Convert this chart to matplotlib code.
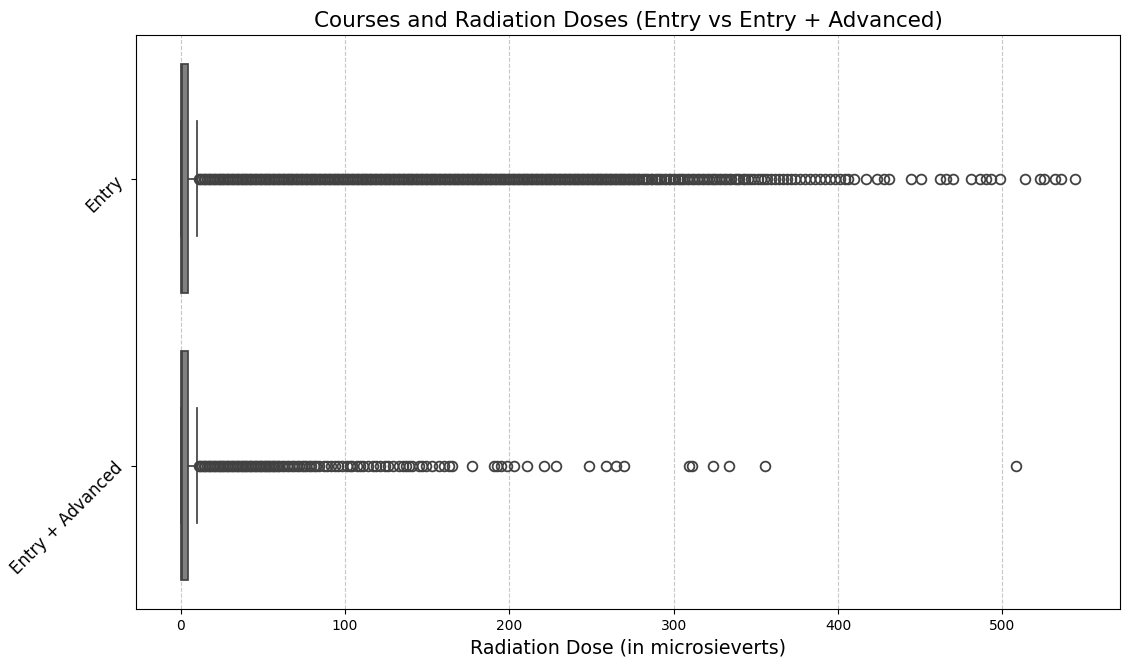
import matplotlib
matplotlib.use("Agg")
import matplotlib.pyplot as plt

# course groups (top to bottom)
categories = ["Entry", "Entry + Advanced"]

# box statistics (microsieverts)
q1 = [0.3, 0.3]
median = [0.6, 0.6]
q3 = [4.6, 4.6]
whis_lo = [0.0, 0.0]
whis_hi = [10.2, 10.2]

# outliers for "Entry" - up to ~280 they form a solid run of overlapping points
entry_fliers = [
    11, 12, 13, 14, 15, 16, 17, 18, 19, 20, 21, 22, 23, 24, 25, 26, 27, 28, 29, 30,
    31, 32, 33, 34, 35, 36, 37, 38, 39, 40, 41, 42, 43, 44, 45, 46, 47, 48, 49, 50,
    51, 52, 53, 54, 55, 56, 57, 58, 59, 60, 61, 62, 63, 64, 65, 66, 67, 68, 69, 70,
    71, 72, 73, 74, 75, 76, 77, 78, 79, 80, 81, 82, 83, 84, 85, 86, 87, 88, 89, 90,
    91, 92, 93, 94, 95, 96, 97, 98, 99, 100, 101, 102, 103, 104, 105, 106, 107, 108,
    109, 110, 111, 112, 113, 114, 115, 116, 117, 118, 119, 120, 121, 122, 123, 124,
    125, 126, 127, 128, 129, 130, 131, 132, 133, 134, 135, 136, 137, 138, 139, 140,
    141, 142, 143, 144, 145, 146, 147, 148, 149, 150, 151, 152, 153, 154, 155, 156,
    157, 158, 159, 160, 161, 162, 163, 164, 165, 166, 167, 168, 169, 170, 171, 172,
    173, 174, 175, 176, 177, 178, 179, 180, 181, 182, 183, 184, 185, 186, 187, 188,
    189, 190, 191, 192, 193, 194, 195, 196, 197, 198, 199, 200, 201, 202, 203, 204,
    205, 206, 207, 208, 209, 210, 211, 212, 213, 214, 215, 216, 217, 218, 219, 220,
    221, 222, 223, 224, 225, 226, 227, 228, 229, 230, 231, 232, 233, 234, 235, 236,
    237, 238, 239, 240, 241, 242, 243, 244, 245, 246, 247, 248, 249, 250, 251, 252,
    253, 254, 255, 256, 257, 258, 259, 260, 261, 262, 263, 264, 265, 266, 267, 268,
    269, 270, 271, 272, 273, 274, 275, 276, 277, 278, 279,
    280.5, 282, 283, 284.5, 286, 287, 288.5, 290, 291, 292.5, 294, 295.5, 297, 298,
    299.5, 301, 302.5, 304, 305, 306.5, 308, 309.5, 311, 312.5, 314, 315.5, 317,
    318.5, 320, 321.5, 323, 324.5, 326, 327.5, 329, 330.5, 332, 333.5, 335, 337,
    338.5, 340, 342, 343.5, 345, 347, 349, 351, 353, 355, 357, 359, 361.5, 364,
    366.5, 369, 371.5, 374, 377, 380, 383, 386, 389, 392, 395, 398, 401, 404, 406,
    409.5, 416.8, 423.4, 427.7, 430.7, 444.1, 450.2, 462.0, 465.5, 470.0, 480.6,
    486.6, 490.3, 493.3, 498.8, 514.0, 523.1, 525.0, 532.2, 535.8, 544.3,
]

# outliers for "Entry + Advanced"
adv_fliers = [
    11, 12, 13, 14, 15, 16, 17, 18, 19, 20, 21, 22, 23, 24, 25, 26, 27, 28, 29, 30,
    31, 32, 33, 34, 35, 36, 37, 38, 39, 40, 41, 42, 43, 44, 45, 46, 47, 48, 49, 50,
    51, 52, 53, 54, 55, 56, 57, 58, 59, 60, 61.5, 63, 64.5, 66, 67.5, 69, 70.5, 72,
    73.5, 75, 76.5, 78, 79.5, 81, 82.5, 84,
    87, 89, 91.5, 94, 96, 98, 101, 103, 104, 107, 109, 111, 114, 117, 119, 121, 124,
    126, 129, 133, 135, 137, 139, 141, 145, 147, 149, 153, 157, 160, 163, 165,
    177.4, 190.8, 192.6, 195.0, 198.7, 202.9, 210.8, 221.1, 228.4, 248.5, 258.8,
    264.9, 269.7, 309.2, 311.0, 323.8, 333.5, 355.4, 508.5,
]

fliers = [entry_fliers, adv_fliers]

stats = []
for i, name in enumerate(categories):
    stats.append({
        "label": name,
        "q1": q1[i],
        "med": median[i],
        "q3": q3[i],
        "whislo": whis_lo[i],
        "whishi": whis_hi[i],
        "fliers": fliers[i],
    })

line_col = "#424242"
box_col = "#808080"

fig = plt.figure(figsize=(11.24, 6.66), dpi=100)
ax = fig.add_subplot(111)
fig.subplots_adjust(left=0.121, right=0.9964, top=0.947, bottom=0.0856)

ax.bxp(
    stats,
    positions=[0, 1],
    widths=0.8,
    capwidths=0.4,
    orientation="horizontal",
    patch_artist=True,
    boxprops=dict(facecolor=box_col, edgecolor=line_col, linewidth=1.25),
    whiskerprops=dict(color=line_col, linewidth=1.25),
    capprops=dict(color=line_col, linewidth=1.25),
    medianprops=dict(color=line_col, linewidth=1.25),
    flierprops=dict(marker="o", markerfacecolor="none", markeredgecolor=line_col,
                    markersize=7, markeredgewidth=1.3),
)

ax.set_ylim(1.5, -0.5)
ax.set_yticks([0, 1])
ax.set_yticklabels(categories, rotation=45, fontsize=12)
ax.set_xticks([0, 100, 200, 300, 400, 500])
ax.tick_params(axis="x", labelsize=10)

ax.grid(axis="x", linestyle="--", alpha=0.7)
ax.set_axisbelow(True)

ax.set_title("Courses and Radiation Doses (Entry vs Entry + Advanced)", fontsize=15.5)
ax.set_xlabel("Radiation Dose (in microsieverts)", fontsize=13.7)

plt.savefig("out.png", dpi=100)
plt.close()
